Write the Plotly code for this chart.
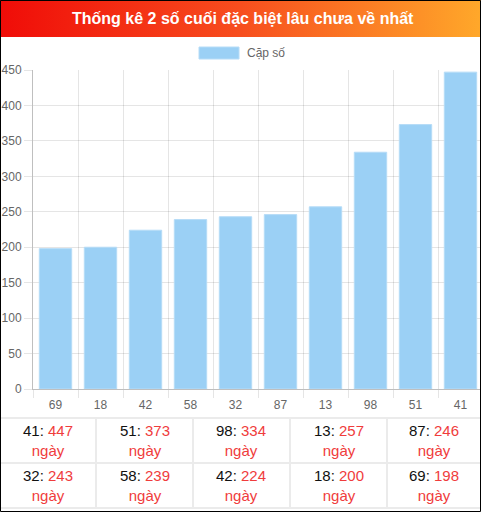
#loading necessary libraries
import base64
import plotly.graph_objects as go

#chart data: pair of last two digits and number of days not seen
pairs = ["69", "18", "42", "58", "32", "87", "13", "98", "51", "41"]
days = [198, 200, 224, 239, 243, 246, 257, 334, 373, 447]
y_ticks = [0, 50, 100, 150, 200, 250, 300, 350, 400, 450]

title_text = "Thống kê 2 số cuối đặc biệt lâu chưa về nhất"
legend_text = "Cặp số"
unit_text = "ngày"

W, H = 481, 513
RED = "#f03c3c"
BAR = "#9bd0f5"

#helpers to turn pixel positions into paper fractions
def px(x):
    return x / W

def py(y):
    return 1 - y / H

#bar chart
fig = go.Figure()
fig.add_trace(go.Bar(x=pairs, y=days, marker=dict(color=BAR, line=dict(color="#b6dcf7", width=1)),
                     name=legend_text, hoverinfo="x+y"))

fig.update_layout(width=W, height=H, margin=dict(l=0, r=0, t=0, b=0),
                  paper_bgcolor="white", plot_bgcolor="white", showlegend=False,
                  bargap=0.28, font=dict(family="Liberation Sans, Arial, sans-serif", size=12, color="#666"))

fig.update_xaxes(type="category", domain=[px(33), 1], range=[-0.5, -0.5 + 448 / 45],
                 tickson="boundaries", showgrid=True, gridcolor="rgba(0,0,0,0.1)",
                 ticks="outside", ticklen=8, tickcolor="rgba(0,0,0,0.1)", ticklabelstandoff=5,
                 showline=True, linecolor="rgba(0,0,0,0.25)", automargin=False)

fig.update_yaxes(domain=[py(389), py(70)], range=[0, 450], tickvals=y_ticks,
                 showgrid=True, gridcolor="rgba(0,0,0,0.1)", zeroline=False,
                 ticks="outside", ticklen=8, tickcolor="rgba(0,0,0,0.1)",
                 showline=True, linecolor="rgba(0,0,0,0.25)", automargin=False)

#title bar with gradient (svg image)
svg = ('<svg xmlns="http://www.w3.org/2000/svg" width="481" height="37" viewBox="0 0 481 37" preserveAspectRatio="none">'
       '<defs><linearGradient id="g" x1="0" y1="0" x2="1" y2="0">'
       '<stop offset="0" stop-color="#f00c08"/><stop offset="0.5" stop-color="#f74e1e"/>'
       '<stop offset="1" stop-color="#ffa82a"/></linearGradient></defs>'
       '<rect width="481" height="37" fill="url(#g)"/></svg>')
uri = "data:image/svg+xml;base64," + base64.b64encode(svg.encode()).decode()
fig.add_layout_image(source=uri, xref="paper", yref="paper", x=0, y=1, sizex=1, sizey=37 / H,
                     xanchor="left", yanchor="top", sizing="stretch", layer="below")

fig.add_annotation(text="<b>" + title_text + "</b>", xref="paper", yref="paper", x=px(243), y=py(18.5),
                   showarrow=False, font=dict(size=16, color="white"), xanchor="center", yanchor="middle")

#legend drawn by hand (wide box like the original)
fig.add_shape(type="rect", xref="paper", yref="paper", x0=px(199), x1=px(239), y0=py(59), y1=py(47),
              fillcolor=BAR, line=dict(color="#b6dcf7", width=1))
fig.add_annotation(text=legend_text, xref="paper", yref="paper", x=px(245), y=py(53),
                   showarrow=False, xanchor="left", yanchor="middle", font=dict(size=12, color="#666"))

#table below the chart, sorted from the longest
order = sorted(range(len(pairs)), key=lambda i: days[i], reverse=True)
col_edges = [0, 96, 193, 290, 387, 481]
row_edges = [418, 463, 508]
for r in range(2):
    for c in range(5):
        i = order[r * 5 + c]
        label = (pairs[i] + ": <span style='color:" + RED + "'>" + str(days[i]) + "</span><br>"
                 "<span style='color:" + RED + "'>" + unit_text + "</span>")
        fig.add_annotation(text=label, xref="paper", yref="paper",
                           x=px((col_edges[c] + col_edges[c + 1]) / 2),
                           y=py((row_edges[r] + row_edges[r + 1]) / 2),
                           showarrow=False, xanchor="center", yanchor="middle",
                           font=dict(size=15, color="#111"))

#cell borders
for y in row_edges:
    fig.add_shape(type="line", xref="paper", yref="paper", x0=0, x1=1, y0=py(y), y1=py(y),
                  line=dict(color="#ebebeb", width=2))
for x in col_edges[1:-1]:
    fig.add_shape(type="line", xref="paper", yref="paper", x0=px(x), x1=px(x), y0=py(418), y1=py(508),
                  line=dict(color="#ebebeb", width=2))

#outer black frame
fig.add_shape(type="rect", xref="paper", yref="paper", x0=px(0.5), x1=px(480.5), y0=py(511.5), y1=py(0.5),
              line=dict(color="black", width=1))

#save output (remove page margin so the figure fills the window)
fig.write_html("out.html", config={"displayModeBar": False},
               post_script="document.body.style.margin='0';document.body.style.overflow='hidden';")
